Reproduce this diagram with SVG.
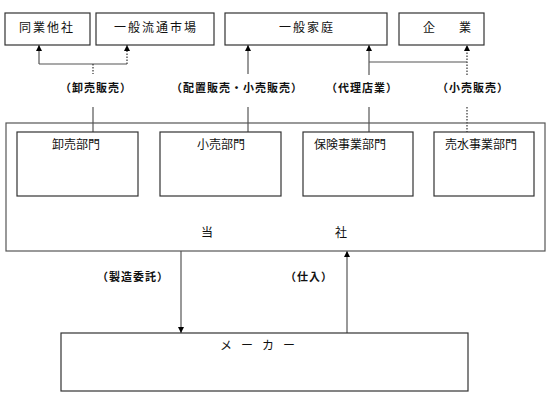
<svg xmlns="http://www.w3.org/2000/svg" width="551" height="396" viewBox="0 0 551 396">
<style>
.box{fill:#fff;stroke:#333;stroke-width:1.2}
.big{fill:none;stroke:#555;stroke-width:1.2}
.ln{fill:none;stroke:#555;stroke-width:1.2}
.dot{fill:none;stroke:#333;stroke-width:1.2;stroke-dasharray:1.5 1.5}
.t{font-family:"Noto Sans CJK JP","Noto Sans",sans-serif;font-size:12px;fill:#111;text-anchor:middle}
.lb{font-family:"Noto Sans CJK JP","Noto Sans",sans-serif;font-size:11px;font-weight:bold;fill:#111;text-anchor:middle;letter-spacing:1px}
</style>
<defs>
<marker id="ah" viewBox="0 0 10 10" refX="10" refY="5" markerWidth="6" markerHeight="6" markerUnits="userSpaceOnUse" orient="auto">
<path d="M0,0 L10,5 L0,10 Z" fill="#000"/>
</marker>
</defs>
<rect width="551" height="396" fill="#fff"/>
<g id="connectors">
<line class="ln" x1="39" y1="64" x2="39" y2="45" marker-end="url(#ah)"/>
<line class="dot" x1="127" y1="64" x2="127" y2="45" marker-end="url(#ah)"/>
<line class="ln" x1="39" y1="64" x2="127" y2="64"/>
<line class="dot" x1="93" y1="64" x2="93" y2="74"/>
<line class="ln" x1="93" y1="107" x2="93" y2="132"/>
<line class="ln" x1="248" y1="74" x2="248" y2="45" marker-end="url(#ah)"/>
<line class="ln" x1="248" y1="107" x2="248" y2="132"/>
<line class="ln" x1="369" y1="75" x2="369" y2="45" marker-end="url(#ah)"/>
<line class="dot" x1="467" y1="75" x2="467" y2="45" marker-end="url(#ah)"/>
<line class="ln" x1="369" y1="62" x2="467" y2="62"/>
<line class="ln" x1="369" y1="107" x2="369" y2="132"/>
<line class="dot" x1="467" y1="107" x2="467" y2="132"/>
<line class="ln" x1="181" y1="251" x2="181" y2="333" marker-end="url(#ah)"/>
<line class="ln" x1="347" y1="333" x2="347" y2="251" marker-end="url(#ah)"/>
</g>
<g id="labels">
<text class="lb" x="96" y="92">（卸売販売）</text>
<text class="lb" x="237" y="92">（配置販売・小売販売）</text>
<text class="lb" x="362" y="92">（代理店業）</text>
<text class="lb" x="473" y="92">（小売販売）</text>
<text class="lb" x="133" y="281">（製造委託）</text>
<text class="lb" x="309" y="281">（仕入）</text>
</g>
<g id="doshagaisha"><rect class="box" x="5" y="13" width="85" height="32"/><text class="t" x="47" y="32" letter-spacing="2">同業他社</text></g>
<g id="ippanryutsu"><rect class="box" x="96" y="13" width="118" height="32"/><text class="t" x="156" y="32" letter-spacing="2">一般流通市場</text></g>
<g id="ippankatei"><rect class="box" x="225" y="13" width="162" height="32"/><text class="t" x="307" y="32" letter-spacing="2">一般家庭</text></g>
<g id="kigyo"><rect class="box" x="399" y="13" width="85" height="32"/><text class="t" x="447" y="32">企　　業</text></g>
<g id="tosha"><rect class="big" x="6" y="123" width="539" height="128"/>
<text class="t" x="207" y="237">当</text><text class="t" x="341" y="237">社</text></g>
<g id="oroshi"><rect class="box" x="17" y="132" width="121" height="64"/><text class="t" x="76" y="149">卸売部門</text></g>
<g id="kouri"><rect class="box" x="160" y="132" width="121" height="64"/><text class="t" x="221" y="149">小売部門</text></g>
<g id="hoken"><rect class="box" x="303" y="132" width="110" height="64"/><text class="t" x="350" y="149">保険事業部門</text></g>
<g id="baisui"><rect class="box" x="434" y="132" width="100" height="64"/><text class="t" x="481" y="149">売水事業部門</text></g>
<g id="maker"><rect class="box" x="61" y="333" width="407" height="58"/><text class="t" x="262" y="350" letter-spacing="9">メーカー</text></g>
</svg>
